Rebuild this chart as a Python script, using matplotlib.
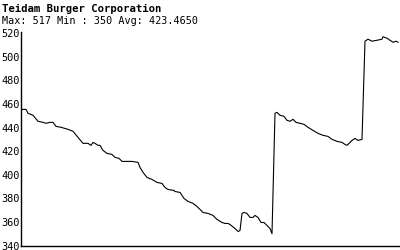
import matplotlib
matplotlib.use("Agg")
import matplotlib.pyplot as plt

title = "Teidam Burger Corporation"
subtitle = "Max: 517 Min : 350 Avg: 423.4650"
yticks = [340, 360, 380, 400, 420, 440, 460, 480, 500, 520]

# sample position (day index) and price
day = [0, 4, 6, 11, 16, 21, 24, 28, 31, 34, 39, 46, 51, 56, 61, 66, 69, 71, 73,
       76, 78, 81, 85, 90, 93, 97, 100, 110, 116, 118, 121, 125, 130, 135, 140,
       143, 146, 152, 153, 158, 162, 166, 171, 175, 178, 181, 186, 191, 195, 200,
       203, 206, 208, 213, 216, 218, 220, 222, 225, 228, 231, 233, 236, 239, 242,
       245, 248, 250, 253, 255, 258, 262, 265, 268, 271, 274, 278, 282, 286, 291,
       296, 301, 306, 310, 315, 320, 323, 325, 328, 330, 333, 336, 340, 343, 346,
       350, 355, 360, 361, 365, 368, 371, 374, 376]
price = [455.4, 455.4, 452.1, 450.4, 445.3, 444.4, 443.6, 444.4, 444.4, 441.0,
         440.2, 438.5, 436.8, 431.7, 426.6, 426.6, 424.9, 427.4, 426.6, 424.9,
         424.9, 420.6, 418.1, 417.2, 414.7, 413.9, 411.3, 411.3, 410.5, 406.2,
         402.0, 397.7, 396.0, 393.5, 392.6, 389.2, 387.5, 386.7, 385.8, 385.0,
         379.9, 377.4, 375.7, 373.1, 370.6, 368.0, 367.2, 365.5, 362.1, 359.5,
         358.7, 358.7, 357.8, 354.4, 351.9, 352.7, 367.2, 368.0, 367.2, 363.8,
         363.8, 365.5, 363.8, 359.5, 359.5, 357.0, 354.4, 350.0, 452.1, 452.9,
         450.4, 449.5, 446.1, 445.3, 447.0, 444.4, 443.6, 442.7, 440.2, 437.6,
         435.1, 433.4, 432.5, 430.0, 428.3, 427.4, 425.7, 424.9, 427.4, 429.1,
         430.8, 429.1, 430.0, 513.2, 514.9, 513.2, 514.0, 514.9, 517.0, 515.7,
         514.0, 512.3, 513.2, 512.3]

plt.rcParams['font.family'] = ['DejaVu Sans Mono']
fig = plt.figure(figsize=(4, 2.5), dpi=100)
ax = fig.add_axes([0.0525, 0.018, 0.9475, 0.854])
ax.plot(day, price, color='black', lw=0.8)
ax.set_xlim(-1, 378)
ax.set_ylim(340, 521)
ax.set_yticks(yticks)
ax.set_yticklabels([str(v) for v in yticks])
ax.set_xticks([])
ax.tick_params(axis='y', length=0, pad=1, labelsize=7.4, colors='black')
for s in ['top', 'right']:
    ax.spines[s].set_visible(False)
for s in ['left', 'bottom']:
    ax.spines[s].set_linewidth(1.0)
    ax.spines[s].set_color('black')

fig.text(0.005, 1 - 9 / 250, title, fontsize=7.7, fontweight='bold',
         va='center', ha='left')
fig.text(0.005, 1 - 21 / 250, subtitle, fontsize=7.3, va='center', ha='left')

fig.savefig('out.png', dpi=100)
